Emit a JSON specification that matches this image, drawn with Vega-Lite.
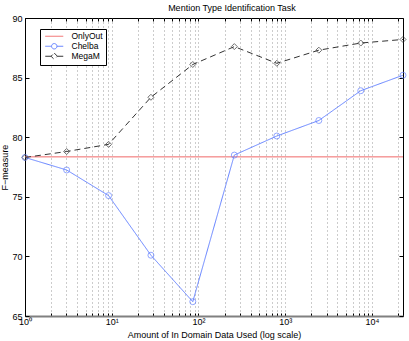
{
  "$schema": "https://vega.github.io/schema/vega-lite/v6.json",
  "width": 378,
  "height": 298,
  "autosize": {"type": "none"},
  "padding": {"left": 25, "top": 18, "right": 6, "bottom": 25},
  "title": {"text": "Mention Type Identification Task", "fontSize": 9, "fontWeight": "normal", "font": "Liberation Sans", "color": "black", "anchor": "middle", "dx": 18, "offset": 1, "frame": "group"},
  "config": {
    "view": {"stroke": "black", "strokeWidth": 1},
    "font": "Liberation Sans",
    "axis": {"labelFont": "Liberation Sans", "titleFont": "Liberation Sans", "labelFontSize": 9, "titleFontSize": 9, "titleFontWeight": "normal", "labelColor": "black", "titleColor": "black", "tickColor": "black", "domainColor": "black"}
  },
  "data": {"values": [
    {"series": "OnlyOut", "x": 1, "y": 78.35},
    {"series": "OnlyOut", "x": 22800, "y": 78.35},
    {"series": "Chelba", "x": 1, "y": 78.3},
    {"series": "Chelba", "x": 3.02, "y": 77.25},
    {"series": "Chelba", "x": 9.2, "y": 75.1},
    {"series": "Chelba", "x": 28.3, "y": 70.1},
    {"series": "Chelba", "x": 86, "y": 66.2},
    {"series": "Chelba", "x": 259, "y": 78.5},
    {"series": "Chelba", "x": 800, "y": 80.1},
    {"series": "Chelba", "x": 2440, "y": 81.4},
    {"series": "Chelba", "x": 7430, "y": 83.9},
    {"series": "Chelba", "x": 22800, "y": 85.2},
    {"series": "MegaM", "x": 1, "y": 78.3},
    {"series": "MegaM", "x": 3.02, "y": 78.8},
    {"series": "MegaM", "x": 9.2, "y": 79.4},
    {"series": "MegaM", "x": 28.3, "y": 83.35},
    {"series": "MegaM", "x": 86, "y": 86.1},
    {"series": "MegaM", "x": 259, "y": 87.6},
    {"series": "MegaM", "x": 800, "y": 86.2},
    {"series": "MegaM", "x": 2440, "y": 87.3},
    {"series": "MegaM", "x": 7430, "y": 87.9},
    {"series": "MegaM", "x": 22800, "y": 88.2}
  ]},
  "resolve": {"axis": {"x": "independent", "y": "independent"}},
  "layer": [
    {
      "mark": {"type": "line", "strokeWidth": 1, "clip": true},
      "encoding": {
        "x": {"field": "x", "type": "quantitative",
          "scale": {"type": "log", "domain": [1, 22800], "nice": false, "zero": false},
          "axis": {"orient": "bottom", "title": "Amount of In Domain Data Used (log scale)",
            "values": [1,2,3,4,5,6,7,8,9,10,20,30,40,50,60,70,80,90,100,200,300,400,500,600,700,800,900,1000,2000,3000,4000,5000,6000,7000,8000,9000,10000,20000],
            "labelExpr": "datum.value==1?'10⁰':datum.value==10?'10¹':datum.value==100?'10²':datum.value==1000?'10³':datum.value==10000?'10⁴':''",
            "grid": true, "gridDash": [1, 3], "gridColor": "#999999", "gridWidth": 1,
            "tickSize": -3, "labelPadding": 4, "labelFlush": false, "labelOverlap": false,
            "domainColor": "#808080", "domainWidth": 2, "titlePadding": 4}},
        "y": {"field": "y", "type": "quantitative",
          "scale": {"domain": [65, 90], "nice": false, "zero": false},
          "axis": {"orient": "left", "title": "F−measure", "values": [65, 70, 75, 80, 85, 90],
            "grid": false, "tickSize": -4, "labelPadding": 7, "titleX": -16}},
        "color": {"field": "series", "type": "nominal",
          "scale": {"domain": ["OnlyOut", "Chelba", "MegaM"], "range": ["#f06868", "#6482ff", "#333333"]},
          "legend": {"title": null, "orient": "none", "legendX": 15, "legendY": 11,
            "strokeColor": "black", "fillColor": "white", "padding": 3,
            "labelFontSize": 8.5, "labelFont": "Liberation Sans", "labelColor": "black",
            "symbolSize": 16, "symbolOffset": 7, "labelOffset": 13, "rowPadding": 0,
            "encode": {"symbols": {"update": {
              "shape": {"signal": "datum.value=='OnlyOut'?'M-4.5,0H4.5':datum.value=='Chelba'?'M-4.5,0H-1.35M1.35,0H4.5M1.35,0A1.35,1.35 0 1 1 -1.35,0A1.35,1.35 0 1 1 1.35,0':'M-4.5,0H-1.6M1.6,0H4.5M0,-1.6L1.6,0L0,1.6L-1.6,0Z'"},
              "fill": {"value": "transparent"},
              "strokeWidth": {"value": 1}}}}}},
        "strokeDash": {"field": "series", "type": "nominal",
          "scale": {"domain": ["OnlyOut", "Chelba", "MegaM"], "range": [[1, 0], [1, 0], [6, 4]]},
          "legend": null}
      }
    },
    {
      "transform": [{"filter": "datum.series != 'OnlyOut'"}],
      "mark": {"type": "point", "filled": false, "strokeWidth": 1, "size": 36, "clip": false},
      "encoding": {
        "x": {"field": "x", "type": "quantitative",
          "axis": {"orient": "top", "title": null, "labels": false, "domain": false, "grid": false,
            "values": [1,2,3,4,5,6,7,8,9,10,20,30,40,50,60,70,80,90,100,200,300,400,500,600,700,800,900,1000,2000,3000,4000,5000,6000,7000,8000,9000,10000,20000],
            "tickSize": -3}},
        "y": {"field": "y", "type": "quantitative",
          "axis": {"orient": "right", "title": null, "labels": false, "domain": false, "grid": false,
            "values": [65, 70, 75, 80, 85, 90], "tickSize": -4}},
        "color": {"field": "series", "type": "nominal"},
        "shape": {"field": "series", "type": "nominal",
          "scale": {"domain": ["Chelba", "MegaM"], "range": ["circle", "diamond"]},
          "legend": null}
      }
    }
  ]
}
